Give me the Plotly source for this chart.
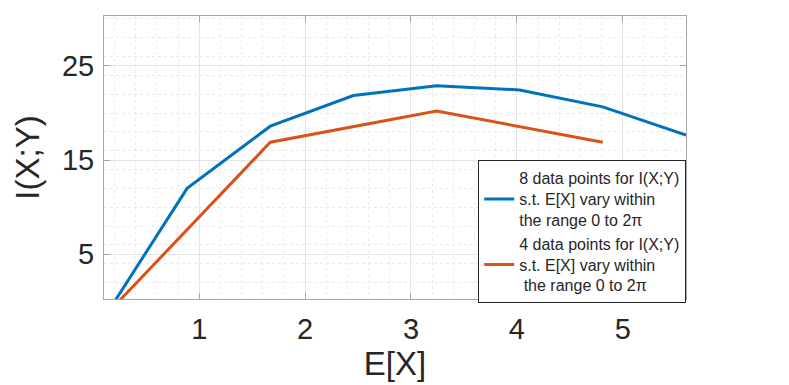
import plotly.graph_objects as go

# E[X] sample points (8 and 4 points between 0.1 and 0.1 + 7*pi/4)
x_8pts = [0.1, 0.885, 1.671, 2.456, 3.242, 4.027, 4.812, 5.598]
y_8pts = [-1.77, 12.0, 18.6, 21.85, 22.9, 22.45, 20.65, 17.65]

x_4pts = [0.1, 1.671, 3.242, 4.812]
y_4pts = [-1.66, 16.9, 20.2, 16.9]

x_ticks = [1, 2, 3, 4, 5]
y_ticks = [5, 15, 25]

name_8 = "8 data points for I(X;Y)<br>s.t. E[X] vary within<br>the range 0 to 2\u03c0"
name_4 = "4 data points for I(X;Y)<br>s.t. E[X] vary within<br> the range 0 to 2\u03c0"

FONT = "Liberation Sans, Arial, Helvetica, sans-serif"
TXT = "#262626"

fig = go.Figure()
fig.add_trace(go.Scatter(x=x_8pts, y=y_8pts, mode="lines", name=name_8,
    line=dict(color="#0072BD", width=3)))
fig.add_trace(go.Scatter(x=x_4pts, y=y_4pts, mode="lines", name=name_4,
    line=dict(color="#D95319", width=3)))

axis_common = dict(
    showline=True, linecolor="#a6a6a6", linewidth=1, mirror="ticks",
    ticks="inside", ticklen=6, tickcolor="#a6a6a6",
    showgrid=True, gridcolor="#e4e4e4", gridwidth=1, zeroline=False,
    tickfont=dict(family=FONT, size=29, color=TXT),
    automargin=False,
)

fig.update_xaxes(
    range=[0.1, 5.598], tickvals=x_ticks, ticklabelstandoff=4,
    title=dict(text="E[X]", font=dict(family=FONT, size=33, color=TXT), standoff=3),
    minor=dict(tick0=0, dtick=0.2, showgrid=True, gridcolor="#ebebeb", griddash="dot", ticks=""),
    **axis_common,
)
fig.update_yaxes(
    range=[0.25, 30.3], tickvals=y_ticks, ticklabelstandoff=3,
    title=dict(text="I(X;Y)", font=dict(family=FONT, size=33, color=TXT), standoff=12),
    minor=dict(tick0=0, dtick=2, showgrid=True, gridcolor="#ebebeb", griddash="dot", ticks=""),
    **axis_common,
)

# page body adds an 8px offset, so the figure is sized to fit the window
fig.update_layout(
    width=781, height=377,
    margin=dict(l=96, r=103, t=8, b=86),
    paper_bgcolor="white", plot_bgcolor="white",
    font=dict(family=FONT, color=TXT),
    legend=dict(
        x=0.643, y=0.49, xanchor="left", yanchor="top",
        bgcolor="white", bordercolor="#262626", borderwidth=1,
        font=dict(family=FONT, size=16, color=TXT),
        tracegroupgap=0, itemwidth=30,
    ),
)

fig.write_html("out.html")
